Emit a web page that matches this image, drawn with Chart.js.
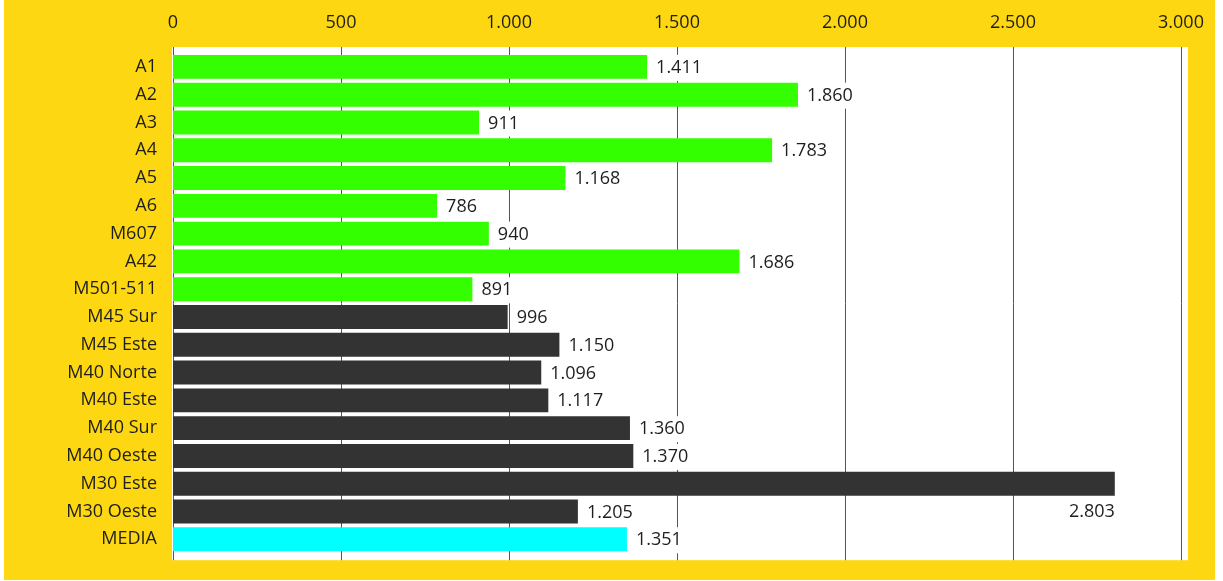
<!DOCTYPE html>
<html>
<head>
<meta charset="utf-8">
<script src="https://cdn.jsdelivr.net/npm/chart.js@4.4.0/dist/chart.umd.min.js"></script>
<style>
  html, body { margin: 0; padding: 0; background: #fff; }
  #wrap { position: absolute; left: 4px; top: 0; width: 1211px; height: 580px; }
</style>
</head>
<body>
<div id="wrap"><canvas id="myChart"></canvas></div>
<script>
// datos
const categories = ['A1', 'A2', 'A3', 'A4', 'A5', 'A6', 'M607', 'A42', 'M501-511',
  'M45 Sur', 'M45 Este', 'M40 Norte', 'M40 Este', 'M40 Sur', 'M40 Oeste',
  'M30 Este', 'M30 Oeste', 'MEDIA'];
const values = [1411, 1860, 911, 1783, 1168, 786, 940, 1686, 891,
  996, 1150, 1096, 1117, 1360, 1370, 2803, 1205, 1351];
const groups = ['radial', 'radial', 'radial', 'radial', 'radial', 'radial', 'radial', 'radial', 'radial',
  'anillo', 'anillo', 'anillo', 'anillo', 'anillo', 'anillo', 'anillo', 'anillo', 'media'];
const xTicks = [0, 500, 1000, 1500, 2000, 2500, 3000];

const groupColors = { radial: '#33FF00', anillo: '#333333', media: '#00FFFF' };
const fmt = n => n.toString().replace(/\B(?=(\d{3})+(?!\d))/g, '.');
const FONT = '"Open Sans", "Noto Sans", sans-serif';

const fondo = {
  id: 'fondo',
  beforeDraw(chart) {
    const { ctx, width, height } = chart;
    ctx.save();
    ctx.fillStyle = '#FDD711';
    ctx.fillRect(0, 0, width, height);
    ctx.restore();
  },
  beforeDatasetsDraw(chart) {
    const { ctx, chartArea: a, scales: { x } } = chart;
    const top = a.top - 6, bottom = a.bottom + 7;
    ctx.save();
    ctx.fillStyle = '#fff';
    ctx.fillRect(a.left - 1, top, a.right + 8 - a.left, bottom - top);
    ctx.strokeStyle = '#555';
    ctx.lineWidth = 1;
    x.ticks.forEach(t => {
      const px = Math.round(x.getPixelForValue(t.value)) + 0.5;
      ctx.beginPath();
      ctx.moveTo(px, top);
      ctx.lineTo(px, bottom);
      ctx.stroke();
    });
    ctx.restore();
  },
  afterDatasetsDraw(chart) {
    const { ctx, chartArea: a } = chart;
    const meta = chart.getDatasetMeta(0);
    ctx.save();
    ctx.font = '18px ' + FONT;
    ctx.textBaseline = 'middle';
    meta.data.forEach((bar, i) => {
      const text = fmt(values[i]);
      const w = ctx.measureText(text).width;
      let tx = bar.x + 9, ty = bar.y + 1;
      // no cabe a la derecha: debajo de la barra
      if (tx + w > a.right - 20) { tx = bar.x - w; ty = bar.y + 28; }
      ctx.fillStyle = '#fff';
      ctx.fillRect(tx - 3, ty - 13, w + 6, 26);
      ctx.fillStyle = '#1e1e1e';
      ctx.fillText(text, tx, ty);
    });
    ctx.restore();
  }
};

const ctx = document.getElementById('myChart').getContext('2d');
const chart = new Chart(ctx, {
  type: 'bar',
  data: {
    labels: categories,
    datasets: [{
      data: values,
      backgroundColor: groups.map(g => groupColors[g]),
      borderWidth: 0,
      barPercentage: 0.86,
      categoryPercentage: 1
    }]
  },
  options: {
    indexAxis: 'y',
    responsive: true,
    maintainAspectRatio: false,
    animation: false,
    layout: { padding: { left: 0, right: 34, top: 0, bottom: 26 } },
    plugins: { legend: { display: false }, tooltip: { enabled: false } },
    scales: {
      x: {
        position: 'top',
        min: 0,
        max: 3000,
        afterBuildTicks: s => { s.ticks = xTicks.map(v => ({ value: v })); },
        afterFit: s => { s.height = 53; s.paddingLeft = 0; s.paddingRight = 0; },
        grid: { display: false, drawTicks: false },
        border: { display: false },
        ticks: {
          padding: 19,
          color: '#1e1e1e',
          font: { family: FONT, size: 18 },
          maxRotation: 0,
          callback: v => fmt(v)
        }
      },
      y: {
        afterFit: s => { s.width = 169; },
        grid: { display: false, drawTicks: false },
        border: { display: false },
        ticks: {
          padding: 16,
          color: '#1e1e1e',
          font: { family: FONT, size: 18 },
          autoSkip: false
        }
      }
    }
  },
  plugins: [fondo]
});
</script>
</body>
</html>
